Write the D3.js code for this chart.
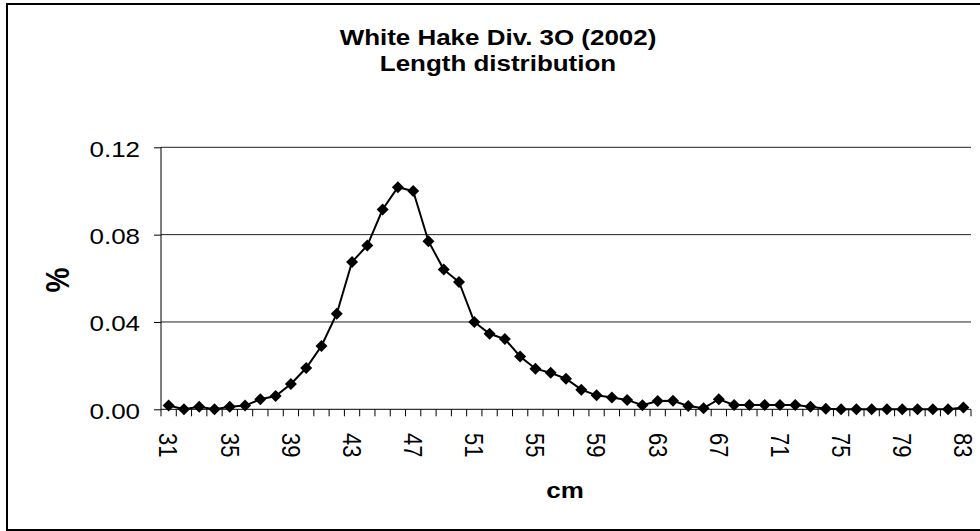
<!DOCTYPE html>
<html>
<head>
<meta charset="utf-8">
<script src="https://cdn.jsdelivr.net/npm/d3@7"></script>
<style>
  html, body { margin: 0; padding: 0; background: #fff; }
  svg { display: block; font-family: Arial, "Liberation Sans", sans-serif; }
</style>
</head>
<body>
<svg id="chart" width="980" height="531"></svg>
<script>
// ---- data ----
const lengths = d3.range(31, 84); // 31..83 cm
const proportions = [
  0.0017, 0.0000, 0.0012, 0.0000, 0.0012, 0.0017, 0.0046, 0.0061, 0.0116, 0.0189,
  0.0290, 0.0438, 0.0675, 0.0750, 0.0915, 0.1017, 0.1000, 0.0770, 0.0640, 0.0583,
  0.0400, 0.0346, 0.0322, 0.0242, 0.0186, 0.0167, 0.0140, 0.0090, 0.0064, 0.0054,
  0.0043, 0.0019, 0.0038, 0.0039, 0.0015, 0.0005, 0.0046, 0.0020, 0.0020, 0.0020,
  0.0020, 0.0020, 0.0012, 0.0003, 0.0000, 0.0000, 0.0000, 0.0000, 0.0000, 0.0000,
  0.0000, 0.0000, 0.0008
];
const yTicks = [0, 0.04, 0.08, 0.12];
const xLabelEvery = 4;
const titleLines = ["White Hake Div. 3O (2002)", "Length distribution"];
const xTitle = "cm";
const yTitle = "%";

// ---- layout ----
const svg = d3.select("#chart");
const plot = { left: 161, right: 971, top: 147.3, bottom: 409.3 };
const sx = 1.18; // horizontal stretch of text in the reference

const x = d3.scaleBand().domain(lengths).range([plot.left, plot.right]).padding(0);
const y = d3.scaleLinear().domain([0, 0.12]).range([plot.bottom, plot.top]);

// outer border (right side falls off the picture)
svg.append("rect")
  .attr("x", 7).attr("y", 4).attr("width", 990).attr("height", 526)
  .attr("fill", "none").attr("stroke", "#000").attr("stroke-width", 2);

// gridlines
svg.append("g").selectAll("line").data(yTicks.filter(d => d > 0)).join("line")
  .attr("x1", plot.left).attr("x2", plot.right)
  .attr("y1", d => y(d)).attr("y2", d => y(d))
  .attr("stroke", "#222").attr("stroke-width", 1);

// y axis
const yAxis = d3.axisLeft(y).tickValues(yTicks).tickSize(7).tickFormat(d3.format(".2f"));
const gy = svg.append("g").attr("transform", `translate(${plot.left},0)`).call(yAxis);
gy.select(".domain").attr("stroke", "#000").attr("stroke-width", 1).attr("d", `M0,${plot.top}V${plot.bottom}`);
gy.selectAll(".tick line").attr("stroke", "#000");
gy.selectAll(".tick text")
  .attr("x", null).attr("dy", null)
  .attr("font-size", 22).attr("fill", "#000")
  .attr("text-anchor", "end").attr("dominant-baseline", "central")
  .attr("transform", `translate(-21,1) scale(${sx},1)`);

// x axis: tick marks at category boundaries
const boundaries = lengths.map(d => x(d)).concat([plot.right]);
svg.append("line")
  .attr("x1", plot.left).attr("x2", plot.right)
  .attr("y1", plot.bottom).attr("y2", plot.bottom)
  .attr("stroke", "#000").attr("stroke-width", 1);
svg.append("g").selectAll("line").data(boundaries).join("line")
  .attr("x1", d => d).attr("x2", d => d)
  .attr("y1", plot.bottom).attr("y2", plot.bottom + 7)
  .attr("stroke", "#000").attr("stroke-width", 1);

// x labels (rotated, reading downward)
svg.append("g").selectAll("text")
  .data(lengths.filter((d, i) => i % xLabelEvery === 0)).join("text")
  .attr("transform", d => `translate(${x(d) + x.bandwidth() / 2},433) scale(${sx},1) rotate(90)`)
  .attr("text-anchor", "start").attr("dominant-baseline", "central")
  .attr("font-size", 22).attr("fill", "#000")
  .text(d => d);

// line + markers
const cx = d => x(d) + x.bandwidth() / 2;
const pts = lengths.map((d, i) => [cx(d), y(proportions[i])]);
svg.append("path")
  .attr("d", d3.line()(pts))
  .attr("fill", "none").attr("stroke", "#000").attr("stroke-width", 2);
const r = 6;
svg.append("g").selectAll("path").data(pts).join("path")
  .attr("d", p => `M${p[0]},${p[1] - r}L${p[0] + r},${p[1]}L${p[0]},${p[1] + r}L${p[0] - r},${p[1]}Z`)
  .attr("fill", "#000");

// titles
const tcx = 498;
svg.append("text")
  .attr("transform", `translate(${tcx},45) scale(${sx},1)`)
  .attr("text-anchor", "middle").attr("font-size", 22).attr("font-weight", "bold")
  .text(titleLines[0]);
svg.append("text")
  .attr("transform", `translate(${tcx},71) scale(${sx},1)`)
  .attr("text-anchor", "middle").attr("font-size", 22).attr("font-weight", "bold")
  .text(titleLines[1]);

svg.append("text")
  .attr("transform", `translate(565,498) scale(${sx},1)`)
  .attr("text-anchor", "middle").attr("font-size", 22).attr("font-weight", "bold")
  .text(xTitle);

svg.append("text")
  .attr("transform", `translate(57,280) scale(${sx},1) rotate(-90)`)
  .attr("text-anchor", "middle").attr("dominant-baseline", "central")
  .attr("font-size", 28).attr("font-weight", "bold")
  .text(yTitle);
</script>
</body>
</html>
